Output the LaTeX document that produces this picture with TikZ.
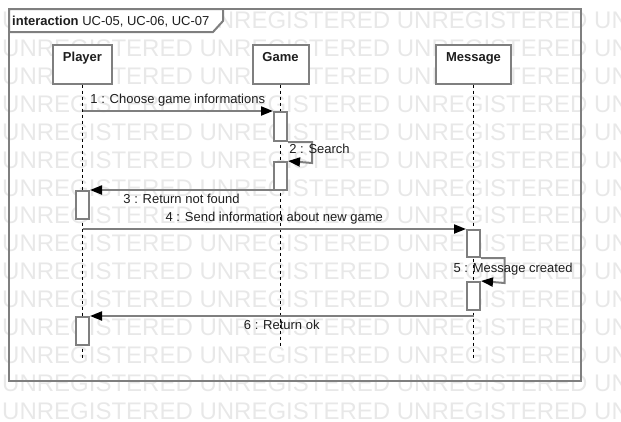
\documentclass[tikz,border=0pt]{standalone}
\usepackage{fontspec}
\setmainfont{Liberation Sans}
\usetikzlibrary{arrows.meta}
\definecolor{umlgray}{HTML}{7F7F7F}
\definecolor{wmgray}{HTML}{E8E8E8}
\definecolor{umltext}{HTML}{1E1E1E}
\tikzset{
  objbox/.style={draw=umlgray,line width=2pt,fill=white,minimum height=39pt,inner xsep=0pt,inner ysep=7.9pt,text height=9.3pt,text depth=13.9pt,font=\fontsize{13}{15}\selectfont\bfseries,text=umltext},
  actbox/.style={draw=umlgray,line width=2pt,fill=white,minimum width=13pt,inner sep=0pt,anchor=north},
  lifeline/.style={black,line width=1pt,dash pattern=on 3pt off 3pt},
  msg/.style={draw=umlgray,line width=2pt,-{Triangle[length=12pt,width=9pt,color=black]}},
  msglabel/.style={font=\fontsize{13}{15}\selectfont,text=umltext},
  wm/.style={font=\fontsize{24}{28}\selectfont,text=wmgray,inner sep=0pt,anchor=base west}
}
\begin{document}
\begin{tikzpicture}[x=1pt,y=-1pt]
\useasboundingbox (0,0) rectangle (621,421);
\begin{scope}
\clip (0,0) rectangle (621,421);
\foreach \r in {0,...,14}
  \node[wm] (wm\r) at (2,28.6+27.9*\r) {UNREGISTERED UNREGISTERED UNREGISTERED UNREGISTERED};
\end{scope}

\draw[umlgray,line width=2pt] (9,9) rectangle (581,381);
\draw[umlgray,line width=2pt,fill=white] (9,9) -- (223,9) -- (223,21) -- (213,32) -- (9,32) -- cycle;
\node[msglabel,inner sep=0pt,anchor=base west] (title) at (12,25) {\textbf{interaction} UC-05, UC-06, UC-07};

\node[objbox,minimum width=59pt] (player) at (82.5,64) {Player};
\node[objbox,minimum width=56pt] (game) at (280.5,64) {Game};
\node[objbox,minimum width=75pt] (message) at (473.5,64) {Message};

\draw[lifeline] (player.south) -- ++(0,274);
\draw[lifeline] (game.south) -- ++(0,262);
\draw[lifeline] (message.south) -- ++(0,274);

\node[actbox,minimum height=29pt] (act1) at (280.5,111) {};
\node[actbox,minimum height=28pt] (act2) at (280.5,161) {};
\node[actbox,minimum height=28pt] (act3) at (82.5,190) {};
\node[actbox,minimum height=27pt] (act4) at (473.5,229) {};
\node[actbox,minimum height=28pt] (act5) at (473.5,281) {};
\node[actbox,minimum height=28pt] (act6) at (82.5,316) {};

\draw[msg] (player |- act1.north west) -- node[msglabel,above] (l1) {1 : Choose game informations} (act1.north west);
\draw[msg] (act1.south east) -- ++(24,0) -- ++(0,21) -- (act2.north east);
\node[msglabel] (l2) at (319.5,149) {2 : Search};
\draw[msg] (act2.west |- act3.north east) -- node[msglabel,below] (l3) {3 : Return not found} (act3.north east);
\draw[msg] (player |- act4.north west) -- node[msglabel,above] (l4) {4 : Send information about new game} (act4.north west);
\draw[msg] (act4.south east) -- ++(23.5,0) -- ++(0,25) -- (act5.north east);
\node[msglabel] (l5) at (513,269) {5 : Message created};
\draw[msg] (message |- act6.north east) -- node[msglabel,below] (l6) {6 : Return ok} (act6.north east);
\end{tikzpicture}
\end{document}
